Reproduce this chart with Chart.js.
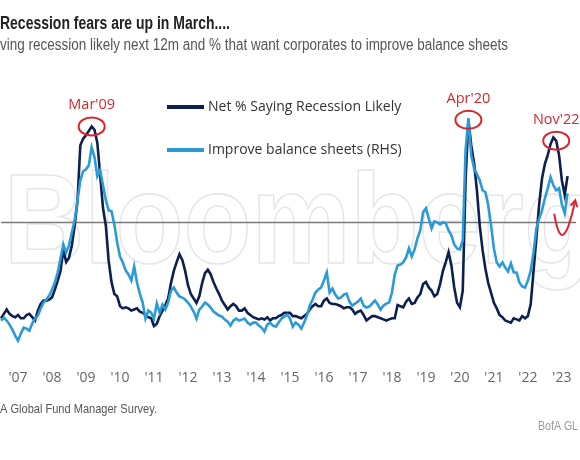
<!DOCTYPE html>
<html>
<head>
<meta charset="utf-8">
<script src="https://cdn.jsdelivr.net/npm/chart.js@4.4.0/dist/chart.umd.min.js"></script>
<style>
  body { margin: 0; background: #fff; }
  #wrap { position: relative; width: 580px; height: 460px; overflow: hidden; }
</style>
</head>
<body>
<div id="wrap"><canvas id="fmsChart" width="580" height="460"></canvas></div>
<script>
// monthly survey readings, Jul 2006 .. Mar 2023
const firstYear = 2006;
const firstMonth = 7;
const monthCount = 204; // axis runs on to Jun 2023

const yearLabels = ["'07", "'08", "'09", "'10", "'11", "'12", "'13", "'14", "'15",
  "'16", "'17", "'18", "'19", "'20", "'21", "'22", "'23"];

// net % saying recession likely next 12m (LHS)
const netRecessionLikely = [
  -87, -83, -79, -83, -85, -86, -84, -87, -87, -84, -83, -86,
  -89, -80, -74, -71, -71, -70, -68, -61, -53, -44, -25, -36,
  -32, -21, -3, 20, 70, 76, 79, 83, 87, 84, 72, 43,
  13, -3, -35, -54, -65, -67, -76, -78, -77, -78, -80, -79,
  -78, -81, -82, -84, -86, -87, -94, -92, -85, -80, -75, -69,
  -55, -44, -36, -29, -34, -44, -57, -65, -69, -73, -67, -55,
  -46, -43, -47, -54, -60, -65, -71, -75, -79, -76, -74, -76,
  -80, -80, -78, -82, -84, -86, -87, -88, -87, -88, -86, -89,
  -87, -87, -85, -84, -82, -82, -82, -85, -85, -86, -87, -85,
  -83, -79, -76, -74, -76, -76, -71, -69, -73, -74, -74, -75,
  -76, -78, -77, -77, -79, -83, -81, -80, -84, -89, -87, -85,
  -85, -86, -87, -88, -89, -88, -87, -87, -75, -76, -77, -72,
  -69, -74, -73, -68, -65, -56, -54, -59, -62, -67, -65, -56,
  -44, -36, -27, -39, -59, -73, -77, -62, 38, 93, 70, 54,
  29, -3, -25, -42, -55, -64, -73, -78, -84, -86, -89, -90,
  -91, -87, -88, -89, -85, -87, -85, -74, -44, -14, 17, 40,
  53, 61, 71, 77, 74, 61, 38, 25, 42
];

// % that want corporates to improve balance sheets (RHS)
const improveBalanceSheets = [
  25.4, 26.0, 25.4, 24.6, 23.6, 22.4, 21.4, 22.8, 24.0, 23.8, 23.4, 24.8,
  25.8, 26.4, 27.8, 29.0, 29.6, 30.4, 31.6, 33.0, 35.0, 37.8, 40.6, 39.0,
  40.4, 43.0, 45.4, 49.4, 53.4, 55.2, 55.6, 56.4, 60.0, 58.0, 54.2, 55.4,
  52.4, 49.4, 47.4, 47.2, 44.6, 41.0, 38.2, 37.0, 35.4, 34.6, 33.4, 36.2,
  33.0, 30.8, 29.0, 25.8, 27.4, 27.0, 25.8, 28.8, 27.0, 28.6, 27.6, 29.0,
  31.4, 32.0, 31.0, 30.2, 30.0, 29.6, 29.0, 28.2, 27.2, 25.8, 27.6, 28.2,
  29.0, 28.6, 28.0, 27.2, 26.8, 26.4, 26.2, 25.6, 25.2, 24.4, 25.4, 25.8,
  25.4, 25.6, 25.8, 25.0, 24.6, 25.0, 25.0, 24.4, 24.0, 23.2, 24.6, 25.0,
  24.4, 24.2, 25.0, 25.8, 26.2, 26.6, 25.8, 24.2, 25.0, 24.6, 23.8, 25.0,
  26.4, 28.4, 29.6, 31.0, 31.6, 32.0, 33.4, 35.0, 31.0, 31.8, 30.6, 29.8,
  30.0, 30.6, 30.8, 29.2, 28.4, 28.8, 29.2, 29.8, 28.4, 28.0, 28.2, 28.8,
  29.4, 28.6, 27.6, 28.4, 28.8, 29.0, 31.0, 34.6, 36.4, 36.6, 37.0, 38.0,
  39.8, 38.2, 39.6, 41.8, 43.4, 47.0, 47.8, 45.8, 43.8, 45.2, 45.0, 44.6,
  45.0, 44.8, 43.4, 42.4, 40.6, 39.8, 39.6, 41.4, 59.4, 65.8, 58.4, 55.8,
  54.6, 53.4, 51.4, 51.0, 48.4, 44.4, 39.8, 37.0, 36.2, 37.0, 36.0, 35.2,
  36.8, 35.0, 35.0, 33.0, 32.2, 32.0, 33.4, 35.4, 39.0, 43.8, 45.8, 47.4,
  49.8, 51.8, 54.0, 52.4, 51.4, 51.8, 48.6, 46.8, 50.8
];

const peakNotes = [
  { text: "Mar'09", month: "2009-03" },
  { text: "Apr'20", month: "2020-04" },
  { text: "Nov'22", month: "2022-11" },
];

const NAVY = "#0d1f4f";
const SKY = "#2a9bd6";
const RED = "#d8262e";

const months = [];
for (let i = 0; i < monthCount; i++) {
  const m = firstMonth - 1 + i;
  const y = firstYear + Math.floor(m / 12);
  months.push(`${y}-${String((m % 12) + 1).padStart(2, "0")}`);
}

function yearTick(value, index) {
  const [y, m] = months[index].split("-");
  if (m !== "01") return null;
  return yearLabels[Number(y) - 2007];
}

// draw text squeezed to a given width (the source uses a condensed face)
function fitText(ctx, text, x, y, width, stroke) {
  const w = ctx.measureText(text).width;
  ctx.save();
  ctx.translate(x, y);
  ctx.scale(width / w, 1);
  if (stroke) ctx.strokeText(text, 0, 0);
  else ctx.fillText(text, 0, 0);
  ctx.restore();
}

const decorations = {
  id: "decorations",
  beforeDraw(chart) {
    const { ctx } = chart;
    ctx.save();
    ctx.fillStyle = "#fff";
    ctx.fillRect(0, 0, chart.width, chart.height);
    ctx.restore();
  },
  beforeDatasetsDraw(chart) {
    const { ctx, chartArea, scales } = chart;
    ctx.save();
    // faint source watermark
    ctx.font = "bold 128px 'Liberation Sans'";
    ctx.strokeStyle = "#e6e6e6";
    ctx.lineWidth = 1.6;
    ctx.textBaseline = "alphabetic";
    fitText(ctx, "Bloomberg", 4, 263, 588, true);
    // zero line
    const y0 = scales.y.getPixelForValue(0);
    ctx.strokeStyle = "#7a7a7a";
    ctx.lineWidth = 1.5;
    ctx.beginPath();
    ctx.moveTo(chartArea.left, y0);
    ctx.lineTo(chartArea.right, y0);
    ctx.stroke();
    ctx.restore();
  },
  afterDatasetsDraw(chart) {
    const { ctx, scales } = chart;
    const x = scales.x, y = scales.y;
    ctx.save();

    // peak circles with their labels
    ctx.strokeStyle = RED;
    ctx.fillStyle = RED;
    ctx.lineWidth = 2;
    ctx.font = "14.5px 'Open Sans'";
    ctx.textAlign = "center";
    ctx.textBaseline = "alphabetic";
    peakNotes.forEach((note) => {
      const i = months.indexOf(note.month);
      const cx = x.getPixelForValue(i);
      const cy = y.getPixelForValue(netRecessionLikely[i]);
      ctx.beginPath();
      ctx.ellipse(cx, cy, 13, 9, 0, 0, Math.PI * 2);
      ctx.stroke();
      ctx.fillText(note.text, cx, cy - 17);
    });

    // rebound arrow at the end
    const p0 = [x.getPixelForValue(195.3), y.getPixelForValue(8)];
    const c = [x.getPixelForValue(198.1), y.getPixelForValue(-36)];
    const p1 = [x.getPixelForValue(202.7), y.getPixelForValue(20)];
    ctx.beginPath();
    ctx.moveTo(p0[0], p0[1]);
    ctx.quadraticCurveTo(c[0], c[1], p1[0], p1[1]);
    ctx.stroke();
    const ang = Math.atan2(p1[1] - c[1], p1[0] - c[0]);
    ctx.beginPath();
    ctx.moveTo(p1[0] - 7 * Math.cos(ang - 0.5), p1[1] - 7 * Math.sin(ang - 0.5));
    ctx.lineTo(p1[0], p1[1]);
    ctx.lineTo(p1[0] - 7 * Math.cos(ang + 0.5), p1[1] - 7 * Math.sin(ang + 0.5));
    ctx.stroke();

    // legend inside the plot
    const rows = [chart.data.datasets[0], chart.data.datasets[1]];
    ctx.textAlign = "left";
    ctx.textBaseline = "middle";
    ctx.font = "14px 'Open Sans'";
    rows.forEach((ds, k) => {
      const ly = 107 + k * 43;
      ctx.strokeStyle = ds.borderColor;
      ctx.lineWidth = 4;
      ctx.beginPath();
      ctx.moveTo(167, ly);
      ctx.lineTo(204, ly);
      ctx.stroke();
      ctx.fillStyle = "#333";
      ctx.fillText(ds.label, 208, ly);
    });
    ctx.restore();
  },
  afterDraw(chart) {
    const { ctx } = chart;
    ctx.save();
    ctx.textAlign = "left";
    ctx.textBaseline = "alphabetic";
    ctx.fillStyle = "#222";
    ctx.font = "bold 18px 'Liberation Sans'";
    fitText(ctx, "Recession fears are up in March....", 0, 29, 230);
    ctx.fillStyle = "#555";
    ctx.font = "16px 'Liberation Sans'";
    fitText(ctx, "ving recession likely next 12m and % that want corporates to improve balance sheets", 0, 50, 508);
    ctx.font = "13px 'Liberation Sans'";
    fitText(ctx, "A Global Fund Manager Survey.", 0, 413, 157);
    ctx.fillStyle = "#999";
    fitText(ctx, "BofA GL", 538, 430, 40);
    ctx.restore();
  },
};

new Chart(document.getElementById("fmsChart"), {
  type: "line",
  data: {
    labels: months,
    datasets: [
      {
        label: "Net % Saying Recession Likely",
        data: netRecessionLikely,
        yAxisID: "y",
        borderColor: NAVY,
        borderWidth: 2.6,
        pointRadius: 0,
        tension: 0,
        order: 2,
      },
      {
        label: "Improve balance sheets (RHS)",
        data: improveBalanceSheets,
        yAxisID: "y2",
        borderColor: SKY,
        borderWidth: 2.6,
        pointRadius: 0,
        tension: 0,
        order: 1,
      },
    ],
  },
  options: {
    responsive: false,
    animation: false,
    layout: { padding: { top: 60, bottom: 65.3, left: 0, right: 0 } },
    plugins: { legend: { display: false }, tooltip: { enabled: false } },
    scales: {
      x: {
        grid: { display: false, drawTicks: false },
        border: { display: false },
        ticks: {
          autoSkip: false,
          maxRotation: 0,
          minRotation: 0,
          padding: 8.6,
          color: "#666",
          font: { family: "Open Sans", size: 14 },
          callback: yearTick,
        },
      },
      y: { display: false, min: -125.45, max: 147.27 },
      y2: { display: false, position: "right", min: 17.4, max: 77.4 },
    },
  },
  plugins: [decorations],
});
</script>
</body>
</html>
